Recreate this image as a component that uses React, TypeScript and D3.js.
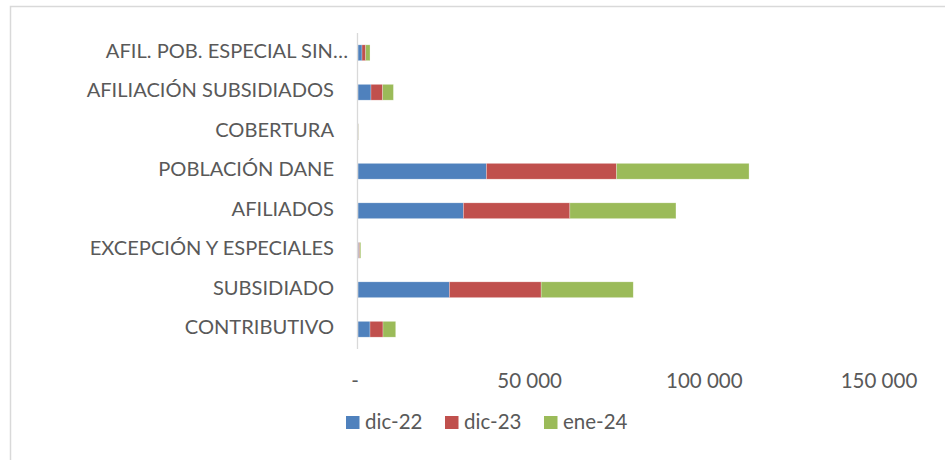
import React from "react";
import * as d3 from "d3";

const categories = [
  "CONTRIBUTIVO",
  "SUBSIDIADO",
  "EXCEPCIÓN Y ESPECIALES",
  "AFILIADOS",
  "POBLACIÓN DANE",
  "COBERTURA",
  "AFILIACIÓN SUBSIDIADOS",
  "AFIL. POB. ESPECIAL SIN…",
];
const seriesNames = ["dic-22", "dic-23", "ene-24"];
const dic22 = [3440, 26160, 200, 30170, 36760, 80, 3720, 1150];
const dic23 = [3720, 26270, 300, 30480, 37250, 81, 3350, 1060];
const ene24 = [3640, 26360, 300, 30370, 37930, 80, 3070, 1230];
const tickValues = [0, 50000, 100000, 150000];
const tickLabels = ["-", "50 000", "100 000", "150 000"];
const colors = ["#4F81BD", "#C0504D", "#9BBB59"];

const W = 945;
const H = 460;
const FONT = "Lato, 'Open Sans', sans-serif";
const TEXT = "#595959";

export default function App() {
  const x = d3.scaleLinear().domain([0, 150000]).range([358, 882]);
  const y = d3
    .scaleBand<string>()
    .domain([...categories].reverse())
    .range([33, 349])
    .paddingInner(0.6)
    .paddingOuter(0.3);

  const rows = categories.map((c, i) => ({
    cat: c,
    "dic-22": dic22[i],
    "dic-23": dic23[i],
    "ene-24": ene24[i],
  }));
  const stacked = d3.stack<any>().keys(seriesNames)(rows);

  const legendX = [346, 445, 544];

  return (
    <svg
      width={W}
      height={H}
      style={{ position: "absolute", left: 0, top: 0, display: "block", background: "#fff" }}
    >
      <rect x={10.5} y={6.5} width={W + 20} height={H + 20} fill="#fff" stroke="#d9d9d9" strokeWidth={1.5} />
      {stacked.map((s, si) => (
        <g key={s.key} fill={colors[si]}>
          {s.map((d, i) => (
            <rect
              key={i}
              x={x(d[0])}
              y={y(d.data.cat)}
              width={Math.max(0, x(d[1]) - x(d[0]))}
              height={y.bandwidth()}
              stroke="#ffffff"
              strokeOpacity={0.45}
              strokeWidth={0.6}
            />
          ))}
        </g>
      ))}
      <line x1={357.5} x2={357.5} y1={33} y2={349} stroke="#d9d9d9" strokeWidth={1.3} />
      {categories.map((c) => (
        <text
          key={c}
          x={c.endsWith("…") ? 348 : 334}
          y={(y(c) as number) + y.bandwidth() / 2 + 5}
          textAnchor="end"
          fontFamily={FONT}
          fontSize={20.1}
          fill={TEXT}
        >
          {c}
        </text>
      ))}
      {tickValues.map((v, i) => (
        <text
          key={v}
          x={x(v) - 3}
          y={387.5}
          textAnchor="middle"
          fontFamily={FONT}
          fontSize={20.5}
          fill={TEXT}
        >
          {tickLabels[i]}
        </text>
      ))}
      {seriesNames.map((n, i) => (
        <g key={n}>
          <rect x={legendX[i]} y={416} width={13.5} height={13} fill={colors[i]} />
          <text x={legendX[i] + 19} y={429} fontFamily={FONT} fontSize={20.5} fill={TEXT}>
            {n}
          </text>
        </g>
      ))}
    </svg>
  );
}
